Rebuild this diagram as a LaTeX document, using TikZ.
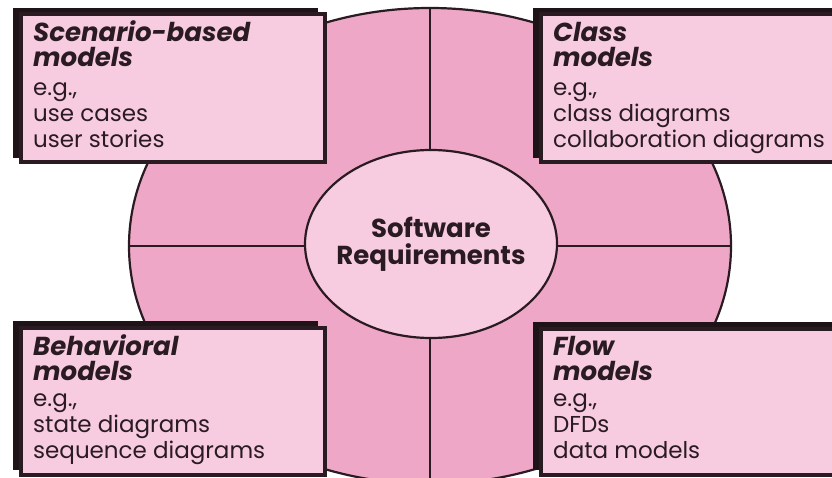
\documentclass[tikz,border=0pt]{standalone}
\usepackage{fontspec}
\setmainfont{Poppins}
\usetikzlibrary{shapes.geometric}
\definecolor{boxpink}{HTML}{F8CCE0}
\definecolor{quadpink}{HTML}{EFA7C7}
\definecolor{inkc}{HTML}{2A1B22}
\definecolor{shadowc}{HTML}{1E1418}
\tikzset{
  outline/.style={draw=inkc, line width=2.2pt},
  shadowbox/.style={fill=shadowc},
  modelbox/.style={draw=inkc, line width=4pt, fill=boxpink},
  titletext/.style={anchor=base west, inner sep=0pt, align=left, text=inkc,
    font=\fontsize{26}{25}\selectfont\bfseries\itshape},
  bodytext/.style={anchor=base west, inner sep=0pt, align=left, text=inkc,
    font=\fontsize{23}{26}\selectfont},
  centerellipse/.style={ellipse, draw=inkc, line width=2.2pt, fill=boxpink,
    minimum width=252pt, minimum height=188pt, inner sep=0pt},
  centertext/.style={anchor=base, align=center, text=inkc, inner sep=0pt,
    font=\fontsize{26}{27}\selectfont\bfseries}
}
\begin{document}
\begin{tikzpicture}[x=1pt,y=-1pt]
\useasboundingbox (0,0) rectangle (832,478);
\clip (0,0) rectangle (832,478);
\fill[white] (0,0) rectangle (832,478);
% large ellipse with quadrants
\fill[quadpink] (430,246) ellipse [x radius=301, y radius=238];
\draw[outline] (430,246) ellipse [x radius=301, y radius=238];
\coordinate (eL) at (129,246);
\coordinate (eR) at (731,246);
\coordinate (eT) at (430,8);
\coordinate (eB) at (430,484);
\draw[outline] (eL) -- (eR);
\draw[outline] (eT) -- (eB);
% centre
\node[centerellipse] (sr) at (431,244) {};
\node[centertext] (srt) at (431,265) {Software\\Requirements};
% top-left box
\fill[shadowbox] (13,8) rectangle (318,158);
\draw[modelbox] (20.5,14.5) rectangle (324.5,162.5);
\node[titletext] (t1) at (33,67) {Scenario-based\\models};
\node[bodytext] (b1) at (33,148) {e.g.,\\use cases\\user stories};
% top-right box
\fill[shadowbox] (533,8) rectangle (840,158);
\draw[modelbox] (540.5,14.5) rectangle (845,162.5);
\node[titletext] (t2) at (553,67) {Class\\models};
\node[bodytext] (b2) at (553,148) {e.g.,\\class diagrams\\collaboration diagrams};
% bottom-left box
\fill[shadowbox] (13,321) rectangle (318,470);
\draw[modelbox] (20.5,328) rectangle (324.5,475);
\node[titletext] (t3) at (33,380) {Behavioral\\models};
\node[bodytext] (b3) at (33,458) {e.g.,\\state diagrams\\sequence diagrams};
% bottom-right box
\fill[shadowbox] (533,322) rectangle (840,470);
\draw[modelbox] (540.5,329) rectangle (845,475);
\node[titletext] (t4) at (553,380) {Flow\\models};
\node[bodytext] (b4) at (553,458) {e.g.,\\DFDs\\data models};
\end{tikzpicture}
\end{document}
